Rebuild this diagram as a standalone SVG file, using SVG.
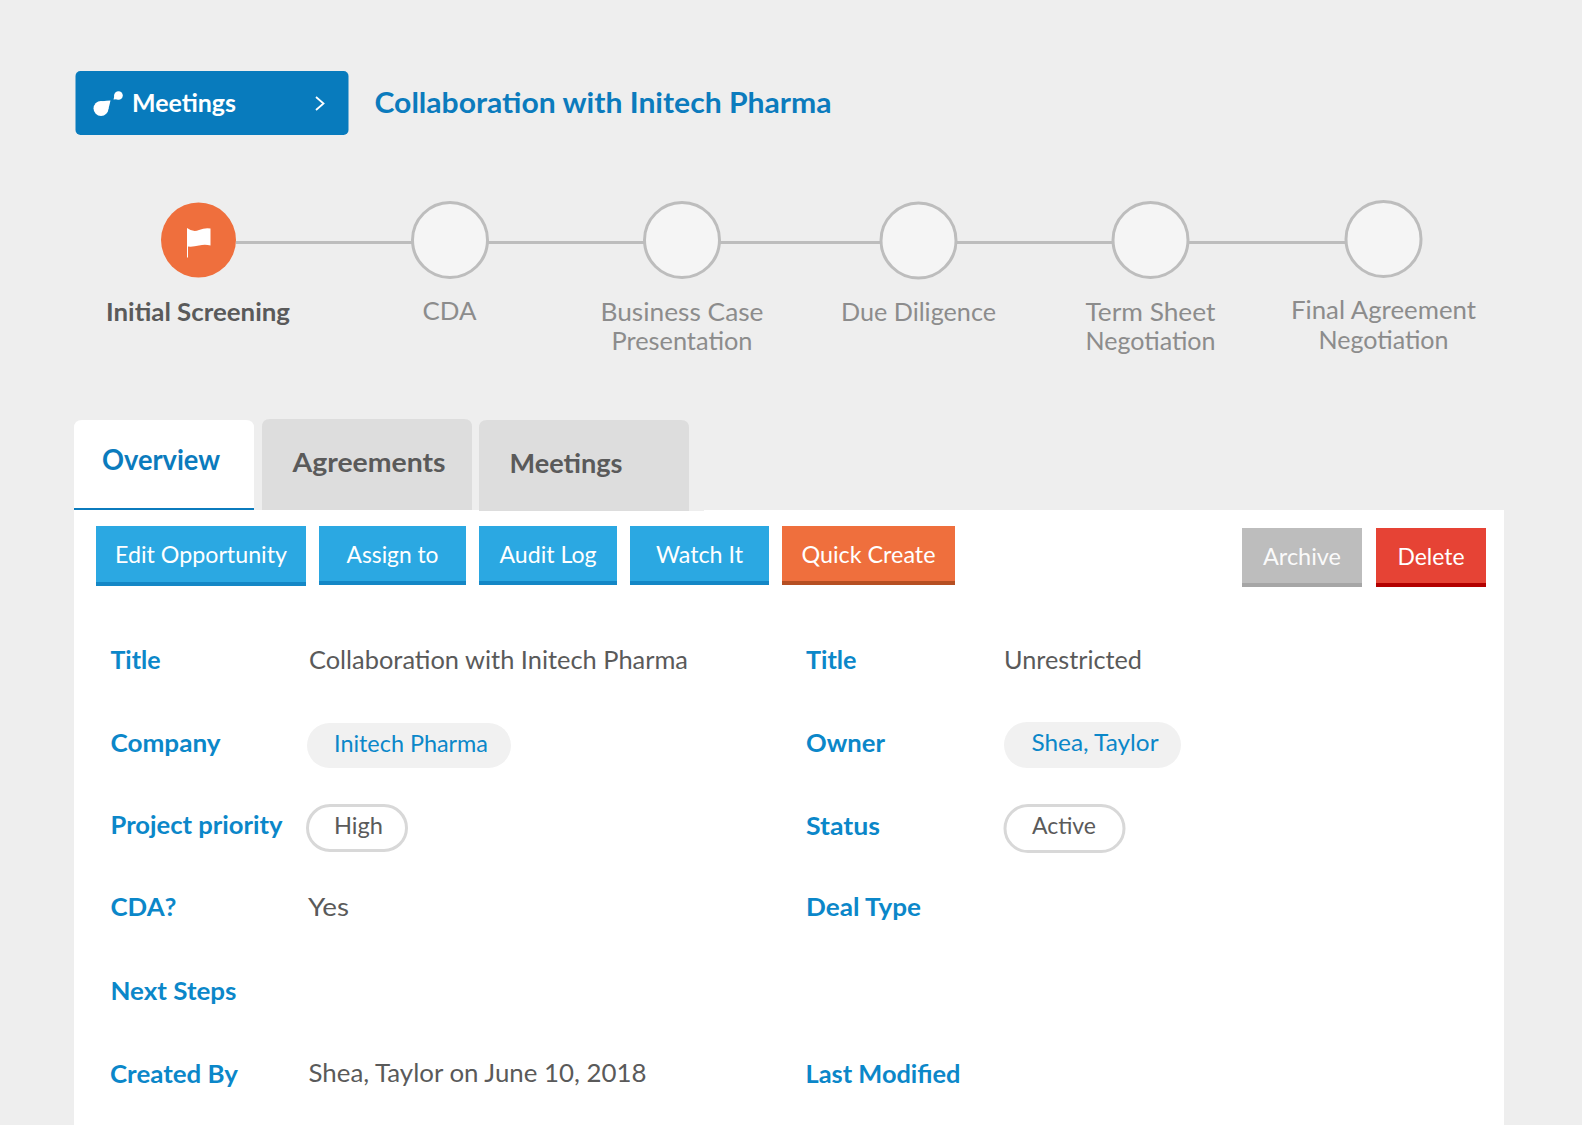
<svg xmlns="http://www.w3.org/2000/svg" width="1582" height="1125" viewBox="0 0 1582 1125">
<style>
text{font-family:"Lato","Liberation Sans",sans-serif}
.step{font-size:25px;fill:#8c8c8c;text-anchor:middle}
.circ{fill:#f5f5f5;stroke:#bdbdbd;stroke-width:3}
.lbl{font-size:25px;font-weight:700;fill:#0b87c9}
.val{font-size:25px;fill:#5a5a5a}
.btn{font-size:24px;fill:#fff;text-anchor:middle}
.tab{font-size:27px;font-weight:700;fill:#5a5a5a}
.chip{fill:#f1f1f1}
.pill{fill:#fff;stroke:#d8d8d8;stroke-width:3}
.blue{fill:#2ba8e2}.bluedk{fill:#1487c6}
</style>
<rect width="1582" height="1125" fill="#eee"/>
<g id="header">
<rect x="75.500" y="71" width="273" height="64" rx="5" fill="#087bbd"/>
<circle cx="101" cy="108.500" r="7.500" fill="#fff"/>
<path d="M96 103Q102 100.500 110.500 100.500Q109.500 106 107 113Z" fill="#fff"/>
<circle cx="118.500" cy="95.500" r="4.300" fill="#fff"/>
<path d="M115 93L113.500 99.500L120 99Z" fill="#fff"/>
<text x="132" y="112" font-size="25" font-weight="700" fill="#fff" textLength="104" lengthAdjust="spacingAndGlyphs">Meetings</text>
<path d="M316 97L323.500 103.500L316 110" fill="none" stroke="#fff" stroke-width="1.800"/>
<text x="374.500" y="113" font-size="29" font-weight="700" fill="#0b7bbd" textLength="457" lengthAdjust="spacingAndGlyphs">Collaboration with Initech Pharma</text>
</g>
<g id="connectors">
<path d="M236 242.500H1346" stroke="#bdbdbd" stroke-width="3" fill="none"/>
</g>
<g id="step-1">
<circle cx="198.500" cy="240" r="37.500" fill="#ef6f3d"/>
<path d="M187 228V257.500H188V246.500Q193 247 199 245.500Q205 244 210.500 245.500V228.500Q205 227.500 199 230Q193 232.500 187 228Z" fill="#fff"/>
<text x="198" y="321" font-size="25" font-weight="700" fill="#5a5a5a" text-anchor="middle" textLength="184" lengthAdjust="spacingAndGlyphs">Initial Screening</text>
</g>
<g id="step-2"><circle class="circ" cx="450" cy="240" r="37.500"/><text class="step" x="449.500" y="320" textLength="54" lengthAdjust="spacingAndGlyphs">CDA</text></g>
<g id="step-3"><circle class="circ" cx="682" cy="240" r="37.500"/><text class="step" x="682" y="321" textLength="163" lengthAdjust="spacingAndGlyphs">Business Case</text><text class="step" x="682" y="350" textLength="141" lengthAdjust="spacingAndGlyphs">Presentation</text></g>
<g id="step-4"><circle class="circ" cx="918.500" cy="240.500" r="37.500"/><text class="step" x="918.500" y="321" textLength="155" lengthAdjust="spacingAndGlyphs">Due Diligence</text></g>
<g id="step-5"><circle class="circ" cx="1150.500" cy="240" r="37.500"/><text class="step" x="1150.500" y="321" textLength="130" lengthAdjust="spacingAndGlyphs">Term Sheet</text><text class="step" x="1150.500" y="350" textLength="130" lengthAdjust="spacingAndGlyphs">Negotiation</text></g>
<g id="step-6"><circle class="circ" cx="1383.500" cy="239" r="37.500"/><text class="step" x="1383.500" y="319" textLength="185" lengthAdjust="spacingAndGlyphs">Final Agreement</text><text class="step" x="1383.500" y="349" textLength="130" lengthAdjust="spacingAndGlyphs">Negotiation</text></g>
<g id="panel"><rect x="74" y="510" width="1430" height="615" fill="#fff"/><rect x="689" y="510" width="15" height="1" fill="#eee"/></g>
<g id="tab-overview">
<path d="M74 510V428Q74 420 82 420H246Q254 420 254 428V510Z" fill="#fff"/>
<rect x="74" y="508" width="180" height="2" fill="#0b7bbd"/>
<text x="102" y="470" font-size="28" font-weight="700" fill="#0b7bbd" textLength="118" lengthAdjust="spacingAndGlyphs">Overview</text></g>
<g id="tab-agreements">
<path d="M262 510V427Q262 419 270 419H464Q472 419 472 427V510Z" fill="#ddd"/>
<text class="tab" x="292.500" y="472" textLength="153" lengthAdjust="spacingAndGlyphs">Agreements</text></g>
<g id="tab-meetings">
<path d="M479 511V428Q479 420 487 420H681Q689 420 689 428V511Z" fill="#ddd"/>
<text class="tab" x="509.500" y="473" textLength="113" lengthAdjust="spacingAndGlyphs">Meetings</text></g>
<g id="btn-edit"><rect class="blue" x="96" y="526" width="210" height="60"/><rect class="bluedk" x="96" y="582" width="210" height="4"/><text class="btn" x="201" y="563" textLength="172" lengthAdjust="spacingAndGlyphs">Edit Opportunity</text></g>
<g id="btn-assign"><rect class="blue" x="319" y="526" width="147" height="59"/><rect class="bluedk" x="319" y="581" width="147" height="4"/><text class="btn" x="392.500" y="563" textLength="92" lengthAdjust="spacingAndGlyphs">Assign to</text></g>
<g id="btn-audit"><rect class="blue" x="479" y="526" width="138" height="59"/><rect class="bluedk" x="479" y="581" width="138" height="4"/><text class="btn" x="548" y="563" textLength="97" lengthAdjust="spacingAndGlyphs">Audit Log</text></g>
<g id="btn-watch"><rect class="blue" x="630" y="526" width="139" height="59"/><rect class="bluedk" x="630" y="581" width="139" height="4"/><text class="btn" x="699.500" y="563" textLength="87" lengthAdjust="spacingAndGlyphs">Watch It</text></g>
<g id="btn-quick"><rect x="782" y="526" width="173" height="59" fill="#ef6f3d"/><rect x="782" y="581" width="173" height="4" fill="#b64f22"/><text class="btn" x="868.500" y="563" textLength="134" lengthAdjust="spacingAndGlyphs">Quick Create</text></g>
<g id="btn-archive"><rect x="1242" y="528" width="120" height="59" fill="#bdbdbd"/><rect x="1242" y="583" width="120" height="4" fill="#a6a6a6"/><text class="btn" x="1302" y="565" textLength="78" lengthAdjust="spacingAndGlyphs" fill-opacity="0.95">Archive</text></g>
<g id="btn-delete"><rect x="1376" y="528" width="110" height="59" fill="#e64335"/><rect x="1376" y="583" width="110" height="4" fill="#b30000"/><text class="btn" x="1431" y="565" textLength="67" lengthAdjust="spacingAndGlyphs">Delete</text></g>
<g id="fields">
<text class="lbl" x="110.500" y="669" textLength="50" lengthAdjust="spacingAndGlyphs">Title</text><text class="val" x="309" y="669" textLength="379" lengthAdjust="spacingAndGlyphs">Collaboration with Initech Pharma</text>
<text class="lbl" x="806" y="669" textLength="50.500" lengthAdjust="spacingAndGlyphs">Title</text><text class="val" x="1004" y="669" textLength="138" lengthAdjust="spacingAndGlyphs">Unrestricted</text>
<text class="lbl" x="110.500" y="752" textLength="110" lengthAdjust="spacingAndGlyphs">Company</text>
<rect class="chip" x="307" y="723" width="204" height="45" rx="22.500"/><text x="334" y="752" font-size="24" fill="#0b87c9" textLength="154" lengthAdjust="spacingAndGlyphs">Initech Pharma</text>
<text class="lbl" x="806" y="752" textLength="79" lengthAdjust="spacingAndGlyphs">Owner</text>
<rect class="chip" x="1004" y="722" width="177" height="46" rx="23"/><text x="1031.500" y="751" font-size="24" fill="#0b87c9" textLength="127" lengthAdjust="spacingAndGlyphs">Shea, Taylor</text>
<text class="lbl" x="110.500" y="834" textLength="172" lengthAdjust="spacingAndGlyphs">Project priority</text>
<rect class="pill" x="307.500" y="805.500" width="99" height="45" rx="22.500"/><text x="334" y="834" font-size="24" fill="#5a5a5a" textLength="49" lengthAdjust="spacingAndGlyphs">High</text>
<text class="lbl" x="806" y="835" textLength="74" lengthAdjust="spacingAndGlyphs">Status</text>
<rect class="pill" x="1005" y="805.500" width="119" height="46" rx="23"/><text x="1032" y="834" font-size="24" fill="#5a5a5a" textLength="64" lengthAdjust="spacingAndGlyphs">Active</text>
<text class="lbl" x="110.500" y="916" textLength="66" lengthAdjust="spacingAndGlyphs">CDA?</text><text class="val" x="308" y="916" textLength="41" lengthAdjust="spacingAndGlyphs">Yes</text>
<text class="lbl" x="806" y="916" textLength="115" lengthAdjust="spacingAndGlyphs">Deal Type</text>
<text class="lbl" x="110.500" y="1000" textLength="126" lengthAdjust="spacingAndGlyphs">Next Steps</text>
<text class="lbl" x="110" y="1083" textLength="128" lengthAdjust="spacingAndGlyphs">Created By</text><text class="val" x="308.500" y="1082" textLength="338" lengthAdjust="spacingAndGlyphs">Shea, Taylor on June 10, 2018</text>
<text class="lbl" x="805.500" y="1083" textLength="155" lengthAdjust="spacingAndGlyphs">Last Modified</text>
</g>
</svg>
